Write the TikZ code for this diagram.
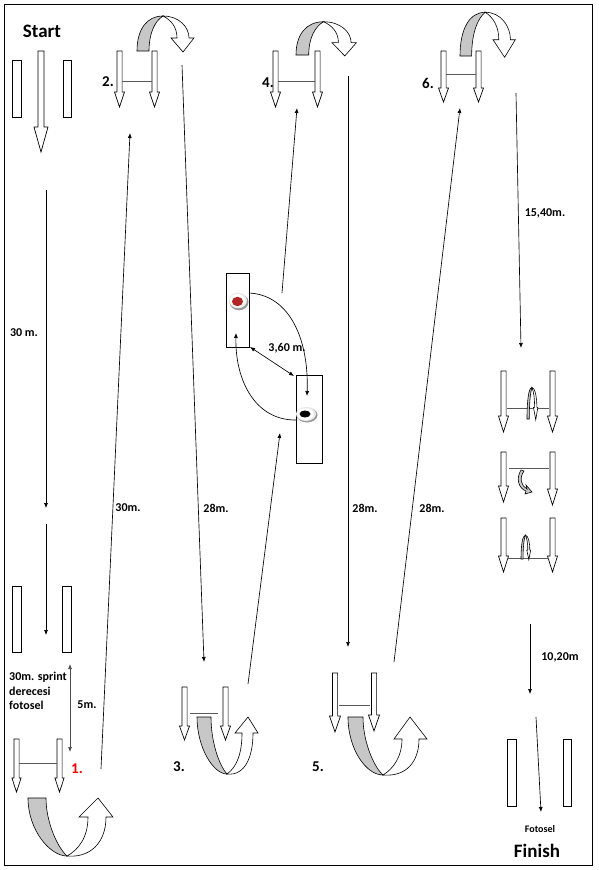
\documentclass[tikz,border=0pt]{standalone}
\usepackage{fontspec}
\setmainfont{Carlito}
\usetikzlibrary{arrows.meta}
\tikzset{
  harrow/.style={draw=black, fill=white, line width=0.7pt, line join=miter},
  cone/.style={draw=black, fill=white, line width=0.7pt},
  bar/.style={draw=black!65, line width=0.9pt},
  conn/.style={draw=black, line width=0.65pt, -{Latex[length=5pt,width=4pt]}},
  dconn/.style={draw=black, line width=0.65pt, {Latex[length=5pt,width=4pt]}-{Latex[length=5pt,width=4pt]}},
  band/.style={draw=black, fill=black!22, line width=0.6pt},
  wband/.style={draw=black, fill=white, line width=0.6pt, line join=miter},
  lbl/.style={font=\fontsize{12}{14}\selectfont\bfseries, inner sep=0pt},
  num/.style={font=\fontsize{15}{17}\selectfont\bfseries, inner sep=0pt},
  big/.style={font=\fontsize{19}{21}\selectfont\bfseries, inner sep=0pt}
}
% hollow down arrow: x, ytop, ytip, head length, head half width
\newcommand\hdown[5]{%
  \draw[harrow] (#1-2.6,#2) -- (#1-2.6,#3-#4) -- (#1-#5,#3-#4) -- (#1,#3)
    -- (#1+#5,#3-#4) -- (#1+2.6,#3-#4) -- (#1+2.6,#2) -- cycle;}
% top u-turn arrow: x, y, xscale, yscale
\newcommand\uturntop[4]{%
  \begin{scope}[shift={(#1,#2)},xscale=#3,yscale=#4]
    \draw[band] (0,0) .. controls (0,-22) and (10,-35) .. (26,-35)
      .. controls (18,-30) and (12,-18) .. (12,0) -- cycle;
    \draw[wband] (26,-35) .. controls (42,-35) and (52,-24) .. (52,-13)
      -- (57,-13) -- (46,1) -- (34,-13) -- (40,-13)
      .. controls (40,-24) and (34,-31) .. (26,-35) -- cycle;
  \end{scope}}
\begin{document}
\begin{tikzpicture}[x=1pt,y=-1pt]
\useasboundingbox (0,0) rectangle (599,870);
\fill[white] (0,0) rectangle (599,870);
\draw[black, line width=1pt] (4,4) rectangle (592,865);

% ---------- texts ----------
\node[big] (start) at (42,31) {Start};
\node[big] (finish) at (537,851) {Finish};
\node[font=\fontsize{10}{12}\selectfont\bfseries, inner sep=0pt] (fotosel) at (540,829) {Fotosel};
\node[num] (n1) at (77,769) {\textcolor{red}{1.}};
\node[num] (n2) at (108,82) {2.};
\node[num] (n3) at (179,767) {3.};
\node[num] (n4) at (268,83) {4.};
\node[num] (n5) at (318,767) {5.};
\node[num] (n6) at (428,83) {6.};
\node[lbl] (l30a) at (24,333) {30 m.};
\node[lbl] (l30b) at (128,508) {30m.};
\node[lbl] (l28a) at (216,508) {28m.};
\node[lbl] (l28b) at (365,508) {28m.};
\node[lbl] (l28c) at (432,508) {28m.};
\node[lbl] (l1540) at (545,213) {15,40m.};
\node[lbl] (l360) at (287,348) {3,60 m.};
\node[lbl] (l1020) at (560,657) {10,20m};
\node[lbl] (l5) at (87,705) {5m.};
\node[lbl, anchor=west] (sprint1) at (9,677) {30m. sprint};
\node[lbl, anchor=west] (sprint2) at (9,691) {derecesi};
\node[lbl, anchor=west] (sprint3) at (9,705) {fotosel};

% ---------- cones (rectangles) ----------
\draw[cone] (12,60) rectangle (21,117);
\draw[cone] (63,60) rectangle (71,117);
\draw[cone] (12,586) rectangle (21,652);
\draw[cone] (62,586) rectangle (71,652);
\draw[cone] (507,739) rectangle (516,806);
\draw[cone] (563,739) rectangle (571,806);

% ---------- hollow arrows ----------
\draw[harrow] (38,51) -- (38,127) -- (34,127) -- (41,152) -- (48,127) -- (44,127) -- (44,51) -- cycle;
% 2
\hdown{119.5}{51}{107}{15}{5}
\hdown{154.5}{51}{107}{15}{5}
\draw[bar] (122,81) -- (152,81);
% 4
\hdown{275.5}{51}{107}{15}{5}
\hdown{317.5}{51}{107}{15}{5}
\draw[bar] (278,81) -- (315,81);
% 6
\hdown{443.5}{51}{102}{14}{5}
\hdown{478.5}{51}{102}{14}{5}
\draw[bar] (446,74) -- (476,74);
% 1
\hdown{16.5}{739}{792}{14}{4.6}
\hdown{59.5}{739}{792}{14}{4.6}
\draw[bar] (19,763) -- (57,763);
% 3
\hdown{184.5}{687}{740}{14}{5}
\hdown{225.5}{687}{740}{14}{5}
\draw[bar] (190,713) -- (218,713);
% 5
\hdown{335}{673}{732}{16}{5.5}
\hdown{374}{673}{731}{16}{5.5}
\draw[bar] (339,705) -- (370,705);
% markers A, B, C
\hdown{503.5}{371}{432}{16}{5}
\hdown{552.5}{371}{432}{16}{5}
\draw[bar] (507,408) -- (549,408);
\hdown{503.5}{452}{502}{16}{5}
\hdown{552.5}{452}{505}{16}{5}
\draw[bar] (509,468) -- (549,468);
\hdown{503.5}{518}{572}{16}{5}
\hdown{552.5}{518}{572}{16}{5}
\draw[bar] (507,558) -- (549,558);

% ---------- u-turn arrows ----------
\uturntop{137}{51}{1}{1}
\uturntop{296}{55}{1.06}{0.95}
\uturntop{460}{56}{0.97}{1.25}
% small loops in markers
\uturntop{527}{419}{0.19}{0.9}
\uturntop{521}{559}{0.17}{0.68}
% hook in marker B
\draw[band] (524,471) .. controls (519,478) and (521,486) .. (527,489)
  -- (526,485) -- (532,492) -- (525,494) -- (526,491)
  .. controls (518,488) and (516,478) .. (521,470) -- cycle;

% bottom u-turn 1
\begin{scope}[shift={(28,798)}]
  \draw[band] (0,0) .. controls (0,32) and (22,58) .. (39,58)
    .. controls (30,50) and (18,25) .. (18,0) -- cycle;
  \draw[wband] (39,58) .. controls (62,60) and (78,45) .. (78,19) -- (85,19) -- (70,0)
    -- (51,19) -- (60,19) .. controls (60,40) and (50,52) .. (39,58) -- cycle;
\end{scope}
% bottom u-turn 3
\begin{scope}[shift={(197,717)}]
  \draw[band] (0,0) .. controls (0,30) and (16,57) .. (30,57)
    .. controls (22,48) and (14,25) .. (14,0) -- cycle;
  \draw[wband] (30,57) .. controls (48,59) and (56,40) .. (56,16) -- (61,16) -- (51,0)
    -- (38,16) -- (45,16) .. controls (45,36) and (40,50) .. (30,57) -- cycle;
\end{scope}
% bottom u-turn 5
\begin{scope}[shift={(348,717)}]
  \draw[band] (0,0) .. controls (0,32) and (18,58) .. (35,58)
    .. controls (26,50) and (15,25) .. (15,0) -- cycle;
  \draw[wband] (35,58) .. controls (58,60) and (71,45) .. (71,22) -- (79,22) -- (62,0)
    -- (46,22) -- (54,22) .. controls (54,40) and (45,52) .. (35,58) -- cycle;
\end{scope}

% ---------- ball boxes ----------
\draw[cone] (226,273) rectangle (249,347);
\draw[cone] (296,375) rectangle (322,463);
\fill[black!40] (239,302) ellipse (9.5 and 8.3);
\fill[black!8] (238,300.5) ellipse (9 and 7.8);
\fill[white] (237.5,300.5) ellipse (7.5 and 6.5);
\fill[red!65!black!85] (237.5,301.5) ellipse (5.5 and 4.7);
\fill[black!40] (307,415) ellipse (10.5 and 7.5);
\fill[black!8] (306,414) ellipse (10 and 7);
\fill[white] (305.5,414) ellipse (8.5 and 5.8);
\fill[black] (305,414) ellipse (5.5 and 3.5);

% ---------- connectors ----------
\coordinate (a1) at (46,190);  \coordinate (a2) at (46,508);
\coordinate (b1) at (46,524);  \coordinate (b2) at (46,635);
\coordinate (f1) at (70,664);  \coordinate (f2) at (70,752);
\coordinate (p1s) at (101,769); \coordinate (p2e) at (130,133);
\coordinate (p2s) at (182,65);  \coordinate (p3e) at (204,662);
\coordinate (p3s) at (248,684); \coordinate (bbk) at (280,433);
\coordinate (rtop) at (282,293); \coordinate (p4e) at (297,108);
\coordinate (rr) at (249,293);  \coordinate (bin) at (307,396);
\coordinate (bl) at (297,420);  \coordinate (rin) at (236,333);
\coordinate (d1) at (250,347);  \coordinate (d2) at (294,376);
\coordinate (p4s) at (348,76);  \coordinate (p5e) at (348,647);
\coordinate (p5s) at (394,662); \coordinate (p6e) at (460,108);
\coordinate (p6s) at (516,93);  \coordinate (mA) at (521,348);
\coordinate (m1) at (530,624);  \coordinate (m2) at (530,694);
\coordinate (g1) at (536,717);  \coordinate (g2) at (541,812);

\draw[conn] (a1) -- (a2);
\draw[conn] (b1) -- (b2);
\draw[dconn, draw=black!70] (f1) -- (f2);
\draw[conn] (p1s) -- (p2e);
\draw[conn] (p2s) -- (p3e);
\draw[conn] (p3s) -- (bbk);
\draw[conn] (rtop) -- (p4e);
\draw[conn] (rr) .. controls (290,295) and (309,340) .. (bin);
\draw[conn] (bl) .. controls (255,421) and (235,380) .. (rin);
\draw[dconn] (d1) -- (d2);
\draw[conn] (p4s) -- (p5e);
\draw[conn] (p5s) -- (p6e);
\draw[conn] (p6s) -- (mA);
\draw[conn] (m1) -- (m2);
\draw[conn] (g1) -- (g2);
\end{tikzpicture}
\end{document}
